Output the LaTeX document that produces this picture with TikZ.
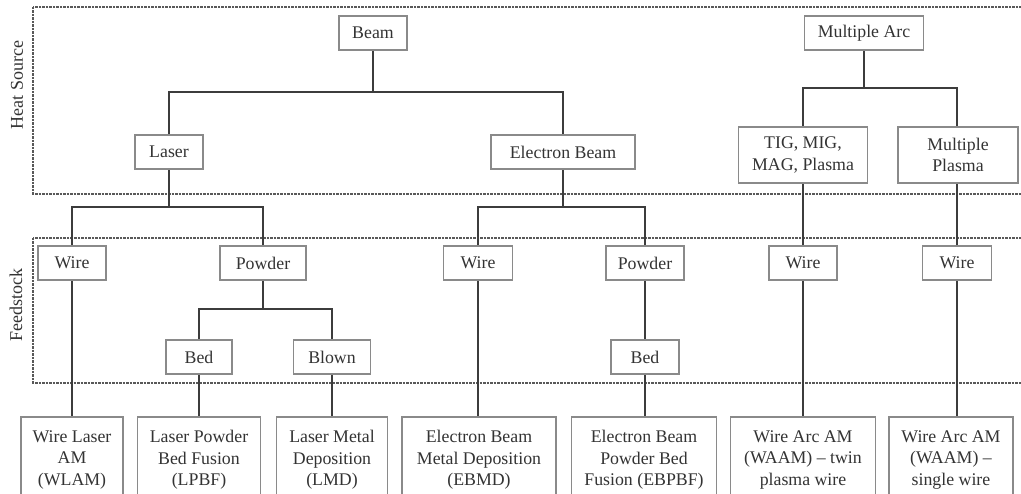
\documentclass[tikz,border=0pt]{standalone}
\usepackage{fontspec}
\setmainfont{Liberation Serif}
\definecolor{txt}{HTML}{333333}
\definecolor{bord}{HTML}{8A8A8A}
\definecolor{ln}{HTML}{3C3C3C}
\begin{document}
\begin{tikzpicture}[x=1pt,y=-1pt,
  box/.style={draw=bord,line width=1.3pt,inner sep=0pt,align=center,text=txt,
    font=\fontsize{17.8}{21.5}\selectfont,fill=white},
  conn/.style={draw=ln,line width=1.8pt},
  region/.style={draw=ln!85,line width=1.5pt,dash pattern=on 2.5pt off 1pt},
  lab/.style={text=txt,font=\fontsize{18}{21}\selectfont,rotate=90}]
\useasboundingbox (0,0) rectangle (1021,494);
% regions
\draw[region] (33,7) rectangle (1035,194);
\draw[region] (33,238) rectangle (1035,383);
\node[lab] (hs) at (17,85) {Heat Source};
\node[lab] (fs) at (16,305) {Feedstock};
% junction coordinates
\coordinate (j1) at (373,92);
\coordinate (j2) at (169,207);
\coordinate (j3) at (563,207);
\coordinate (j4) at (263,309);
\coordinate (j5) at (864,88);
% connectors (drawn first, boxes on top)
\draw[conn] (373,50) -- (j1);
\draw[conn] (169,135) |- (j1) -| (563,135);
\draw[conn] (169,169) -- (j2);
\draw[conn] (72,246) |- (j2) -| (263,246);
\draw[conn] (72,280) -- (72,417);
\draw[conn] (263,280) -- (j4);
\draw[conn] (199,340) |- (j4) -| (332,340);
\draw[conn] (199,374) -- (199,417);
\draw[conn] (332,374) -- (332,417);
\draw[conn] (563,169) -- (j3);
\draw[conn] (478,246) |- (j3) -| (645,246);
\draw[conn] (478,280) -- (478,417);
\draw[conn] (645,280) -- (645,340);
\draw[conn] (645,374) -- (645,417);
\draw[conn] (864,50) -- (j5);
\draw[conn] (803,127) |- (j5) -| (957,127);
\draw[conn] (803,183) -- (803,246);
\draw[conn] (803,280) -- (803,417);
\draw[conn] (957,183) -- (957,246);
\draw[conn] (957,280) -- (957,417);
% heat source boxes
\node[box,minimum width=68,minimum height=34] (beam) at (373,33) {Beam};
\node[box,minimum width=119,minimum height=34] (marc) at (864,33) {Multiple Arc};
\node[box,minimum width=68,minimum height=34] (laser) at (169,152) {Laser};
\node[box,minimum width=144,minimum height=34] (eb) at (563,152) {Electron Beam};
\node[box,minimum width=129,minimum height=56] (tig) at (803,155) {TIG, MIG,\\MAG, Plasma};
\node[box,minimum width=120,minimum height=56] (mp) at (958,155) {Multiple\\Plasma};
% feedstock boxes
\node[box,minimum width=68,minimum height=34] (w1) at (72,263) {Wire};
\node[box,minimum width=86,minimum height=34] (p1) at (263,263) {Powder};
\node[box,minimum width=66,minimum height=34] (b1) at (199,357) {Bed};
\node[box,minimum width=77,minimum height=34] (bl1) at (332,357) {Blown};
\node[box,minimum width=69,minimum height=34] (w2) at (478,263) {Wire};
\node[box,minimum width=78,minimum height=34] (p2) at (645,263) {Powder};
\node[box,minimum width=68,minimum height=34] (b2) at (645,357) {Bed};
\node[box,minimum width=68,minimum height=34] (w3) at (803,263) {Wire};
\node[box,minimum width=69,minimum height=34] (w4) at (957,263) {Wire};
% process boxes
\node[box,minimum width=102,minimum height=86] (wlam) at (72,460) {Wire Laser\\AM\\(WLAM)};
\node[box,minimum width=123,minimum height=86] (lpbf) at (199,460) {Laser Powder\\Bed Fusion\\(LPBF)};
\node[box,minimum width=111,minimum height=86] (lmd) at (332,460) {Laser Metal\\Deposition\\(LMD)};
\node[box,minimum width=154,minimum height=86] (ebmd) at (479,460) {Electron Beam\\Metal Deposition\\(EBMD)};
\node[box,minimum width=145,minimum height=86] (ebpbf) at (644,460) {Electron Beam\\Powder Bed\\Fusion (EBPBF)};
\node[box,minimum width=145,minimum height=86] (waam1) at (803,460) {Wire Arc AM\\(WAAM) -- twin\\plasma wire};
\node[box,minimum width=124,minimum height=86] (waam2) at (951,460) {Wire Arc AM\\(WAAM) --\\single wire};
\end{tikzpicture}
\end{document}
